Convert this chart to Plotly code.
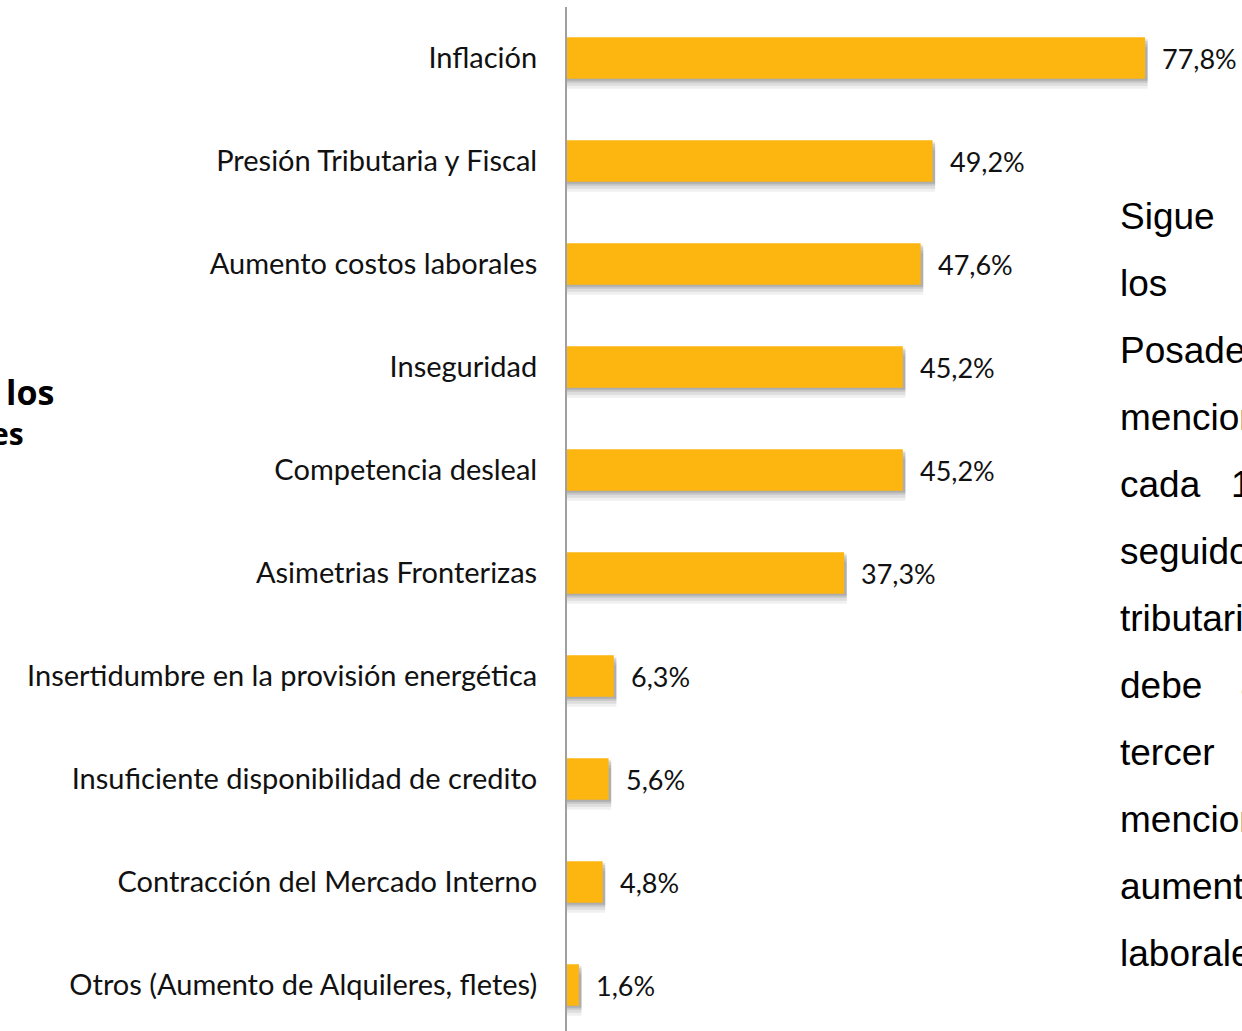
import plotly.graph_objects as go

categories = [
    "Inflación",
    "Presión Tributaria y Fiscal",
    "Aumento costos laborales",
    "Inseguridad",
    "Competencia desleal",
    "Asimetrias Fronterizas",
    "Insertidumbre en la provisión energética",
    "Insuficiente disponibilidad de credito",
    "Contracción del Mercado Interno",
    "Otros (Aumento de Alquileres, fletes)",
]
values = [77.8, 49.2, 47.6, 45.2, 45.2, 37.3, 6.3, 5.6, 4.8, 1.6]

side_lines = [
    "Sigue", "los", "Posadeños", "mencionan",
    "cada\u00a0\u00a0\u00a010", "seguido", "tributaria",
    "debe\u00a0\u00a0\u00a0\u2009a", "tercer", "mencionan",
    "aumento", "laborales",
]
left_fragments = ["los", "es"]

PAGE = 0
W, H = 1242, 1031
ML, MR, MT, MB = 567, 0, 7, 0
PW, PH = W - ML - MR, H - MT - MB

def px_x(px):
    return (px - PAGE - ML) / PW

def px_y(py):
    return (H - MB - (py - PAGE)) / PH

pos = list(range(len(categories)))
UNIT = 103.0
BAR_W = 41.5 / UNIT
BAR_OFF = -BAR_W / 2

fig = go.Figure()

# soft drop shadow layers
for d, a in [(10, 0.06), (7, 0.08), (4, 0.10), (2, 0.12)]:
    fig.add_trace(go.Bar(
        x=[v + 0.35 for v in values], y=pos, orientation="h",
        width=BAR_W, offset=BAR_OFF + d / UNIT,
        marker=dict(color=f"rgba(0,0,0,{a})", line=dict(width=0)),
        hoverinfo="skip", showlegend=False,
    ))

fig.add_trace(go.Bar(
    x=values, y=pos, orientation="h",
    width=BAR_W, offset=BAR_OFF,
    marker=dict(color="#FDB50F", line=dict(width=0)),
    hoverinfo="skip", showlegend=False,
))

annotations = []
for v, p in zip(values, pos):
    annotations.append(dict(
        x=v, y=p, xref="x", yref="y", xanchor="left", yanchor="middle",
        xshift=15, text=f"{v:.1f}".replace(".", ",") + "%", showarrow=False,
        font=dict(family="Lato", size=27, color="#111111"),
    ))

for k, line in enumerate(side_lines):
    annotations.append(dict(
        x=px_x(1118), y=px_y(216 + 67.0 * k), xref="paper", yref="paper",
        xanchor="left", yanchor="middle", text=line, showarrow=False,
        font=dict(family="Liberation Sans, Arial", size=37, color="#000000"),
    ))

for (txt, xr, yc, sz) in zip(left_fragments, [56, 26], [392, 433], [34, 30]):
    annotations.append(dict(
        x=px_x(xr), y=px_y(yc), xref="paper", yref="paper",
        xanchor="right", yanchor="middle", text=f"<b>{txt}</b>", showarrow=False,
        font=dict(family="Open Sans", size=sz, color="#000000"),
    ))

x_max = PW / 7.43
y_top = 0 - (58 - PAGE - MT) / UNIT
y_bot = (len(categories) - 1) + (1031 - MB - 985) / UNIT

fig.update_layout(
    width=W, height=H,
    margin=dict(l=ML, r=MR, t=MT, b=MB, pad=0),
    paper_bgcolor="white", plot_bgcolor="white",
    barmode="overlay",
    showlegend=False,
    annotations=annotations,
    xaxis=dict(range=[0, x_max], showgrid=False, zeroline=False,
               showticklabels=False, showline=False, fixedrange=True),
    yaxis=dict(range=[y_bot, y_top], tickmode="array", tickvals=pos,
               ticktext=categories, showgrid=False, zeroline=False,
               showline=True, linecolor="#a0a0a0", linewidth=2,
               ticks="", ticklabelstandoff=22,
               tickfont=dict(family="Lato", size=29, color="#111111"),
               fixedrange=True),
)

fig.write_html(
    "out.html",
    config={"displayModeBar": False},
    post_script=(
        "document.documentElement.style.overflow='hidden';"
        "document.body.style.margin='0';"
        "document.body.style.overflow='hidden';"
    ),
)
